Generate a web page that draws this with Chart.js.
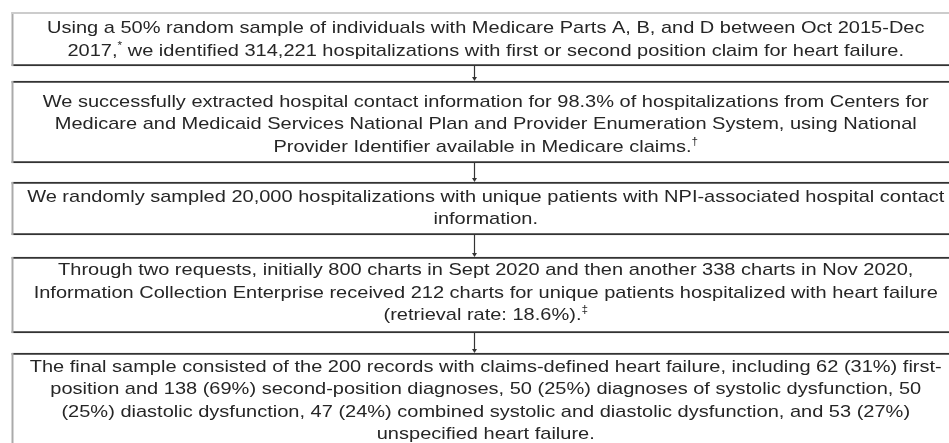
<!DOCTYPE html>
<html>
<head>
<meta charset="utf-8">
<script src="https://cdn.jsdelivr.net/npm/chart.js@4.4.1/dist/chart.umd.min.js"></script>
<style>
  html, body { margin: 0; padding: 0; background: #fff; }
  #flow { display: block; }
</style>
</head>
<body>
<canvas id="flow" width="949" height="443"></canvas>
<script>
// Flow of the sample selection, one box per step (lines as in the figure).
const boxLines = [
  ['Using a 50% random sample of individuals with Medicare Parts A, B, and D between Oct 2015-Dec',
   '2017,* we identified 314,221 hospitalizations with first or second position claim for heart failure.'],
  ['We successfully extracted hospital contact information for 98.3% of hospitalizations from Centers for',
   'Medicare and Medicaid Services National Plan and Provider Enumeration System, using National',
   'Provider Identifier available in Medicare claims.†'],
  ['We randomly sampled 20,000 hospitalizations with unique patients with NPI-associated hospital contact',
   'information.'],
  ['Through two requests, initially 800 charts in Sept 2020 and then another 338 charts in Nov 2020,',
   'Information Collection Enterprise received 212 charts for unique patients hospitalized with heart failure',
   '(retrieval rate: 18.6%).‡'],
  ['The final sample consisted of the 200 records with claims-defined heart failure, including 62 (31%) first-',
   'position and 138 (69%) second-position diagnoses, 50 (25%) diagnoses of systolic dysfunction, 50',
   '(25%) diastolic dysfunction, 47 (24%) combined systolic and diastolic dysfunction, and 53 (27%)',
   'unspecified heart failure.']
];

// layout (page pixels)
const boxTop = [12, 81, 182, 257, 353];
const boxBottom = [66, 163, 235, 333, 470];
const firstLineOffset = [16.5, 21, 15, 13.5, 14]; // from box top to first text line
const LINE_STEP = 22.5;
const BOX_LEFT = 11.5;
const BOX_RIGHT = 960;
const ARROW_X = 474.5;
const TEXT_STRETCH = 1.177; // the figure's lettering is a bit wide
const FONT = '17px "Liberation Sans", Arial, sans-serif';
const SUP_FONT = '10px "Liberation Sans", Arial, sans-serif';
const TEXT_COLOR = '#262626';
const LINE_COLOR = '#333';

function drawRichLine(ctx, text, cx, y) {
  const parts = text.split(/([*†‡])/).filter((s) => s.length);
  const isSup = (p) => /^[*†‡]$/.test(p);
  const widths = parts.map((p) => {
    ctx.font = isSup(p) ? SUP_FONT : FONT;
    return ctx.measureText(p).width;
  });
  const total = widths.reduce((a, b) => a + b, 0);
  ctx.save();
  ctx.translate(cx, y);
  ctx.scale(TEXT_STRETCH, 1);
  let x = -total / 2;
  parts.forEach((p, i) => {
    ctx.font = isSup(p) ? SUP_FONT : FONT;
    ctx.fillText(p, x, isSup(p) ? -5 : 0);
    x += widths[i];
  });
  ctx.restore();
}

const flowPlugin = {
  id: 'flowText',
  afterDatasetsDraw(chart) {
    const ctx = chart.ctx;
    const xs = chart.scales.x;
    const boxes = chart.data.datasets.map((_, i) => {
      const el = chart.getDatasetMeta(i).data[0];
      return {
        left: Math.min(el.x, el.base),
        right: Math.max(el.x, el.base),
        top: el.y - el.height / 2,
        bottom: el.y + el.height / 2
      };
    });
    ctx.save();
    // light left edge, faint top on the first box
    ctx.strokeStyle = '#aaa';
    ctx.lineWidth = 2;
    boxes.forEach((b) => {
      ctx.beginPath();
      ctx.moveTo(b.left + 1, b.top);
      ctx.lineTo(b.left + 1, b.bottom);
      ctx.stroke();
    });
    ctx.strokeStyle = '#ccc';
    ctx.beginPath();
    ctx.moveTo(boxes[0].left, boxes[0].top + 1);
    ctx.lineTo(boxes[0].right, boxes[0].top + 1);
    ctx.stroke();

    // arrows
    const ax = xs.getPixelForValue(ARROW_X);
    ctx.strokeStyle = LINE_COLOR;
    ctx.fillStyle = LINE_COLOR;
    ctx.lineWidth = 1.2;
    for (let i = 0; i < boxes.length - 1; i++) {
      const y0 = boxes[i].bottom;
      const y1 = boxes[i + 1].top;
      ctx.beginPath();
      ctx.moveTo(ax, y0);
      ctx.lineTo(ax, y1 - 3);
      ctx.stroke();
      ctx.beginPath();
      ctx.moveTo(ax - 2.5, y1 - 4);
      ctx.lineTo(ax + 2.5, y1 - 4);
      ctx.lineTo(ax, y1);
      ctx.closePath();
      ctx.fill();
    }

    // texts
    ctx.fillStyle = TEXT_COLOR;
    ctx.textAlign = 'left';
    ctx.textBaseline = 'middle';
    boxLines.forEach((lines, i) => {
      const cx = (boxes[i].left + boxes[i].right) / 2;
      const y0 = boxes[i].top + firstLineOffset[i];
      lines.forEach((line, j) => drawRichLine(ctx, line, cx, y0 + j * LINE_STEP));
    });
    ctx.restore();
  }
};

new Chart(document.getElementById('flow'), {
  type: 'bar',
  data: {
    datasets: boxLines.map((lines, i) => ({
      label: 'step ' + (i + 1),
      data: [{ x: [BOX_LEFT, BOX_RIGHT], y: (boxTop[i] + boxBottom[i]) / 2 }],
      barThickness: boxBottom[i] - boxTop[i],
      grouped: false,
      backgroundColor: '#fff',
      borderColor: LINE_COLOR,
      borderWidth: { top: i === 0 ? 0 : 2, bottom: 2, left: 0, right: 0 },
      borderSkipped: false
    }))
  },
  options: {
    indexAxis: 'y',
    responsive: false,
    animation: false,
    layout: { padding: 0 },
    scales: {
      x: { type: 'linear', min: 0, max: 949, offset: false, display: false },
      y: { type: 'linear', min: 0, max: 443, reverse: true, offset: false, display: false }
    },
    plugins: { legend: { display: false }, tooltip: { enabled: false } }
  },
  plugins: [flowPlugin]
});
</script>
</body>
</html>
